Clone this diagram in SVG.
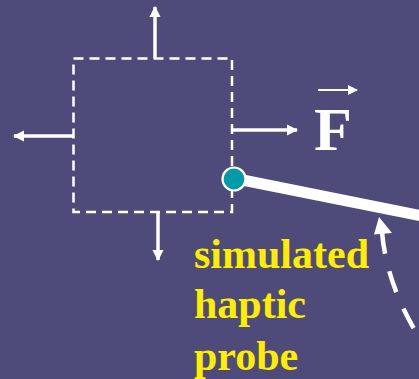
<svg xmlns="http://www.w3.org/2000/svg" width="419" height="379" viewBox="0 0 419 379">
<style>
.w{stroke:#fff;fill:none}
.lbl{font-family:"Liberation Serif","Times New Roman",serif;font-weight:bold}
</style>
<defs>
<marker id="ah" viewBox="0 0 10 10" refX="9" refY="5" markerWidth="3.3" markerHeight="3.3" orient="auto" markerUnits="strokeWidth"><path d="M0,0 L10,5 L0,10 Z" fill="#fff"/></marker>
<marker id="ah2" viewBox="0 0 10 10" refX="9" refY="5" markerWidth="5.5" markerHeight="5" orient="auto" markerUnits="strokeWidth"><path d="M0,0 L10,5 L0,10 Z" fill="#fff"/></marker>
</defs>
<rect width="419" height="379" fill="#4e4a7a"/>
<g id="box">
<rect x="73.5" y="58.5" width="158.5" height="153.5" class="w" stroke-width="2.5" stroke-dasharray="10,6"/>
</g>
<g id="connectors">
<line x1="155" y1="58" x2="155" y2="7" class="w" stroke-width="3.5" marker-end="url(#ah)"/>
<line x1="74" y1="136" x2="14" y2="136" class="w" stroke-width="3.5" marker-end="url(#ah)"/>
<line x1="232" y1="130" x2="297" y2="130" class="w" stroke-width="3.5" marker-end="url(#ah)"/>
<line x1="158" y1="212" x2="158" y2="260" class="w" stroke-width="3.5" marker-end="url(#ah)"/>
<line x1="318" y1="90" x2="357" y2="90" class="w" stroke-width="2" marker-end="url(#ah2)"/>
<line x1="240" y1="179.5" x2="425" y2="216.5" class="w" stroke-width="11"/>
<path d="M382,232 Q387,290 426,348" class="w" stroke-width="4.5" stroke-dasharray="22,18"/>
<path d="M379,217 L392,233 L374,234.5 Z" fill="#fff"/>
</g>
<g id="probe">
<circle cx="234" cy="179" r="11.5" fill="#009aa8" stroke="#fff" stroke-width="2.2"/>
</g>
<g id="force-label">
<text x="314" y="150" class="lbl" font-size="62" fill="#fff">F</text>
</g>
<g id="probe-label" class="lbl" font-size="42" fill="#ffee00">
<text x="194" y="268">simulated</text>
<text x="194" y="318">haptic</text>
<text x="194" y="370">probe</text>
</g>
</svg>
